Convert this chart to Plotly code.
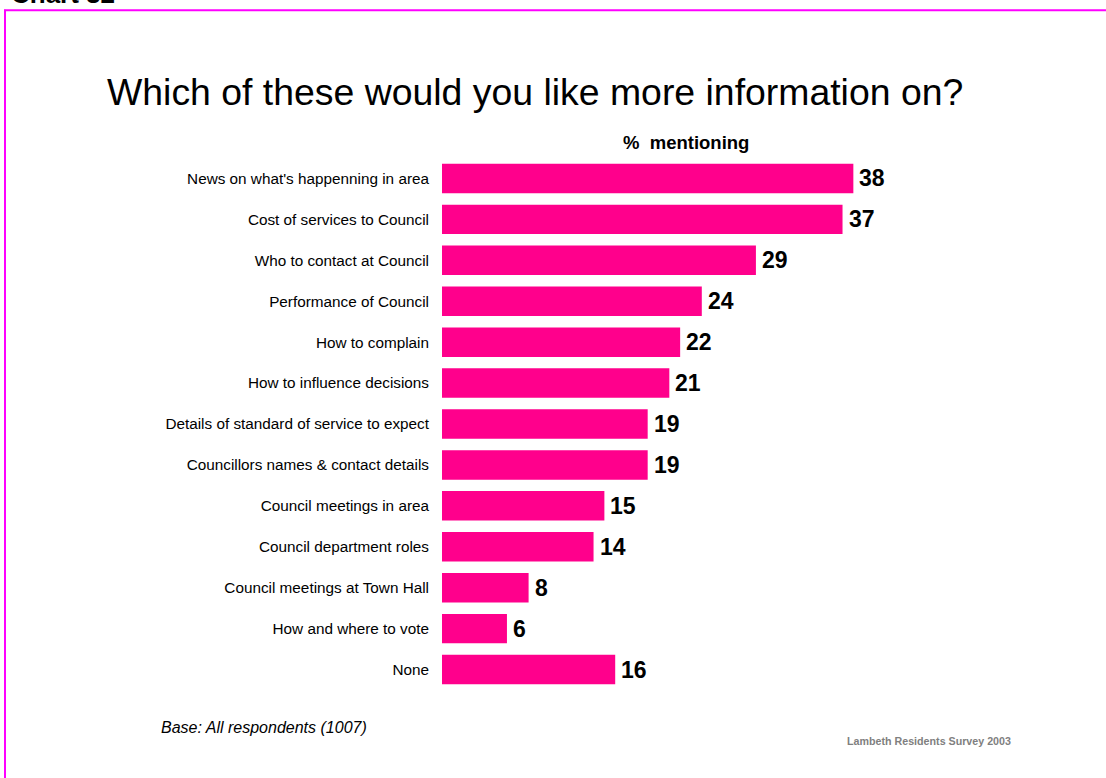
import plotly.graph_objects as go

categories = [
    "News on what's happenning in area",
    "Cost of services to Council",
    "Who to contact at Council",
    "Performance of Council",
    "How to complain",
    "How to influence decisions",
    "Details of standard of service to expect",
    "Councillors names & contact details",
    "Council meetings in area",
    "Council department roles",
    "Council meetings at Town Hall",
    "How and where to vote",
    "None",
]
values = [38, 37, 29, 24, 22, 21, 19, 19, 15, 14, 8, 6, 16]

W, H = 1106, 778
L, R = 442, 875
T, B = 157.5, 690.5

def px(x):
    return (x - L) / (R - L)

def py(y):
    return (B - y) / (B - T)

PINK = "#FF008C"
FONT = "Liberation Sans, Arial"

fig = go.Figure(go.Bar(
    x=values,
    y=categories,
    orientation="h",
    marker=dict(color=PINK, line=dict(width=0)),
    width=0.72,
    hoverinfo="skip",
))

annotations = [
    dict(text="Chart 32", xref="paper", yref="paper", x=px(9), y=py(-7),
         xanchor="left", yanchor="middle", showarrow=False,
         font=dict(size=26, color="black", weight="bold")),
    dict(text="Which of these would you like more information on?",
         xref="paper", yref="paper", x=px(105), y=py(91),
         xanchor="left", yanchor="middle", showarrow=False,
         font=dict(size=37.4, color="black")),
    dict(text="%\u00a0 mentioning", xref="paper", yref="paper",
         x=px(686), y=py(142), xanchor="center", yanchor="middle",
         showarrow=False, font=dict(size=18.5, color="black", weight="bold")),
    dict(text="<i>Base: All respondents (1007)</i>", xref="paper", yref="paper",
         x=px(159), y=py(728), xanchor="left", yanchor="middle",
         showarrow=False, font=dict(size=16, color="black")),
    dict(text="Lambeth Residents Survey 2003", xref="paper", yref="paper",
         x=px(845), y=py(742), xanchor="left", yanchor="middle",
         showarrow=False, font=dict(size=10.7, color="#808080", weight="bold")),
]
for c, v in zip(categories, values):
    annotations.append(dict(
        text=str(v), x=v, y=c, xref="x", yref="y",
        xanchor="left", yanchor="middle", xshift=4, showarrow=False,
        font=dict(family=FONT, size=23, color="black", weight="bold"),
    ))

fig.update_layout(
    width=W, height=H,
    margin=dict(l=L, r=W - R, t=T, b=H - B, pad=0),
    paper_bgcolor="white",
    plot_bgcolor="white",
    showlegend=False,
    font=dict(family=FONT, color="black"),
    xaxis=dict(range=[0, 40], visible=False, fixedrange=True),
    yaxis=dict(
        autorange="reversed",
        showgrid=False, zeroline=False, showline=False,
        ticks="", ticklabelstandoff=12,
        tickfont=dict(family=FONT, size=15.3, color="black"),
    ),
    shapes=[
        dict(type="line", xref="paper", yref="paper",
             x0=px(4), x1=px(1110), y0=py(9.5), y1=py(9.5),
             line=dict(color="#FF00FF", width=2)),
        dict(type="line", xref="paper", yref="paper",
             x0=px(5), x1=px(5), y0=py(9), y1=py(780),
             line=dict(color="#FF00FF", width=2)),
    ],
    annotations=annotations,
)

fig.write_html("out.html")
